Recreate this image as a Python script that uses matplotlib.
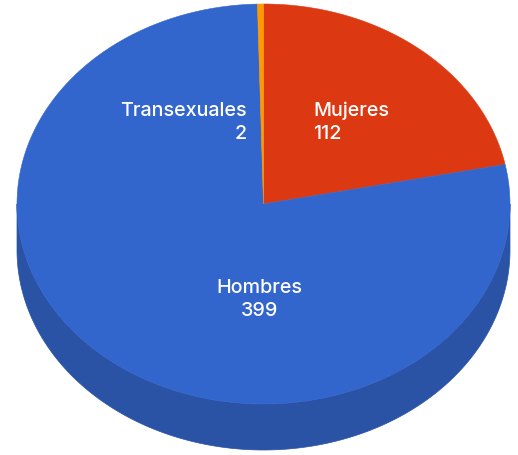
import numpy as np
import matplotlib
matplotlib.use("Agg")
import matplotlib.pyplot as plt
from matplotlib.patches import Polygon

# ---- data ----
categories = ["Mujeres", "Hombres", "Transexuales"]
values = [112, 399, 2]
colors = ["#DC3912", "#3366CC", "#FF9900"]
side_colors = ["#A82B0E", "#2A53A6", "#C27400"]

# ---- geometry (pixel space) ----
W, H = 518, 455
cx, cy = 263.5, 204.0
rx, ry = 246.5, 200.0
depth = 46.0

fig = plt.figure(figsize=(W / 100, H / 100), dpi=100)
ax = fig.add_axes([0, 0, 1, 1])
ax.set_xlim(0, W)
ax.set_ylim(H, 0)
ax.axis("off")

total = float(sum(values))
start = 90.0
angles = []
for v in values:
    span = 360.0 * v / total
    angles.append((start - span, start))  # clockwise
    start -= span


def arc(t0, t1, dy=0.0, n=200):
    t = np.radians(np.linspace(t0, t1, n))
    return np.column_stack([cx + rx * np.cos(t), cy - ry * np.sin(t) + dy])


# side walls (front half: sin(theta) < 0)
for (a0, a1), sc in zip(angles, side_colors):
    for k in range(-2, 2):
        f0, f1 = 180 + 360 * k, 360 + 360 * k
        lo, hi = max(a0, f0), min(a1, f1)
        if hi > lo:
            top = arc(lo, hi)
            bot = arc(hi, lo, dy=depth)
            ax.add_patch(Polygon(np.vstack([top, bot]), closed=True,
                                 facecolor=sc, edgecolor=sc, lw=0.5, zorder=1))

# top surface
for (a0, a1), c in zip(angles, colors):
    pts = np.vstack([[cx, cy], arc(a0, a1)])
    ax.add_patch(Polygon(pts, closed=True, facecolor=c, edgecolor=c,
                         lw=0.4, zorder=2))

# labels
font = dict(family=["Inter", "DejaVu Sans"], size=14.2, weight="medium",
            color="white", zorder=3)
label_pos = {"Mujeres": (313, 116, "left"),
             "Hombres": (259.5, 293, "center"),
             "Transexuales": (247, 116, "right")}
for name, v in zip(categories, values):
    x, y, ha = label_pos[name]
    ax.text(x, y, name, ha=ha, va="baseline", **font)
    ax.text(x, y + 23, str(v), ha=ha, va="baseline", **font)

fig.savefig("out.png", dpi=100)
